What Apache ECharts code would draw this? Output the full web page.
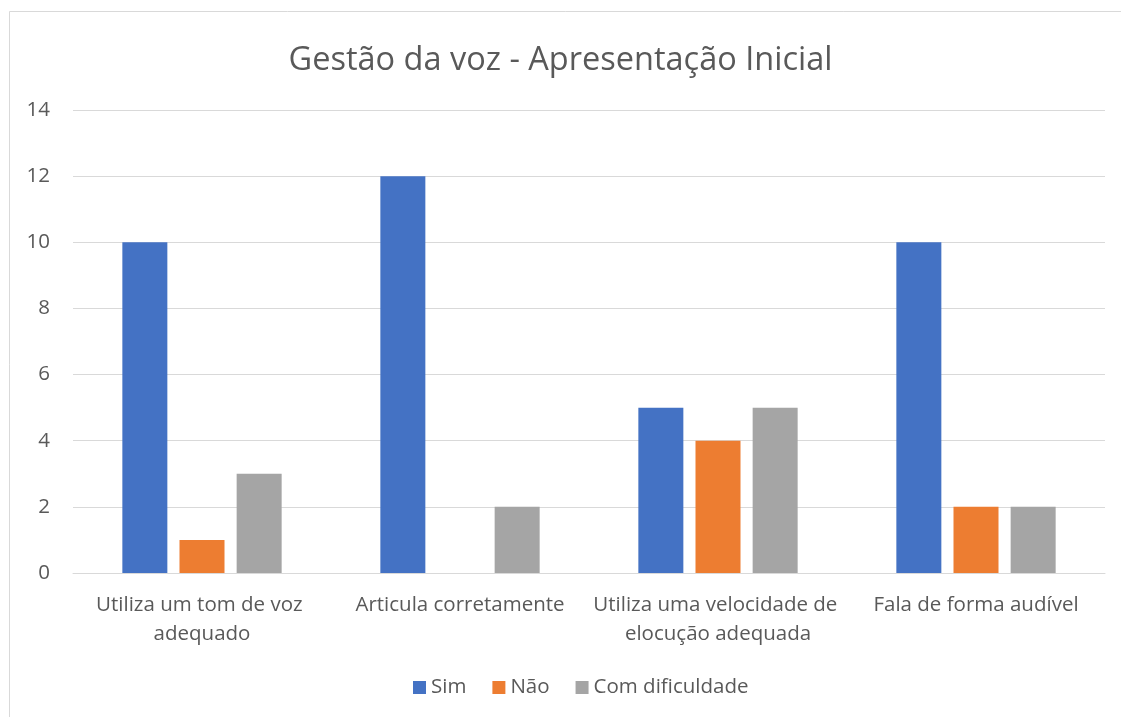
<!DOCTYPE html>
<html><head><meta charset="utf-8">
<script src="https://cdn.jsdelivr.net/npm/echarts@6/dist/echarts.min.js"></script>
<style>html,body{margin:0;padding:0;background:#fff}#c{width:1121px;height:717px}</style>
</head><body><div id="c"></div>
<script>
const categories = ['Utiliza um tom de voz adequado', 'Articula corretamente', 'Utiliza uma velocidade de elocução adequada', 'Fala de forma audível'];
const sim = [10, 12, 5, 10];
const nao = [1, 0, 4, 2];
const comDificuldade = [3, 2, 5, 2];
const yTicks = [0, 2, 4, 6, 8, 10, 12, 14];

const font = '"Open Sans", sans-serif';
const chart = echarts.init(document.getElementById('c'));
chart.setOption({
  animation: false,
  backgroundColor: '#fff',
  graphic: [{type:'rect', shape:{x:9.5,y:11.5,width:1130,height:720}, style:{fill:'none', stroke:'#d9d9d9', lineWidth:1}, silent:true}],
  title: {text:'Gestão da voz - Apresentação Inicial', left:'center', top:39, textStyle:{fontFamily:font, fontSize:32.5, fontWeight:'normal', color:'#595959'}},
  legend: {bottom:14, left:408, itemWidth:13, itemHeight:13, itemGap:26, itemTextGap:5, icon:'rect', textStyle:{fontFamily:font, fontSize:20.5, color:'#595959'}},
  grid: {left:73, right:16, top:110, bottom:144},
  xAxis: {type:'category', data:categories,
    axisLine:{lineStyle:{color:'#d9d9d9', width:1}}, axisTick:{show:false},
    axisLabel:{interval:0, fontFamily:font, fontSize:20.5, color:'#595959', margin:18, lineHeight:29, width:258, overflow:'break'}},
  yAxis: {type:'value', min:0, max:14, interval:2,
    axisLine:{show:false}, axisTick:{show:false},
    splitLine:{lineStyle:{color:'#d9d9d9', width:1}},
    axisLabel:{fontFamily:font, fontSize:20.5, color:'#595959', margin:23, formatter: v => yTicks.includes(v) ? String(v) : ''}},
  series: [
    {name:'Sim', type:'bar', data:sim, barWidth:45, barGap:'27%', itemStyle:{color:'#4472C4'}},
    {name:'Não', type:'bar', data:nao, barWidth:45, itemStyle:{color:'#ED7D31'}},
    {name:'Com dificuldade', type:'bar', data:comDificuldade, barWidth:45, itemStyle:{color:'#A5A5A5'}}
  ]
});
</script></body></html>
